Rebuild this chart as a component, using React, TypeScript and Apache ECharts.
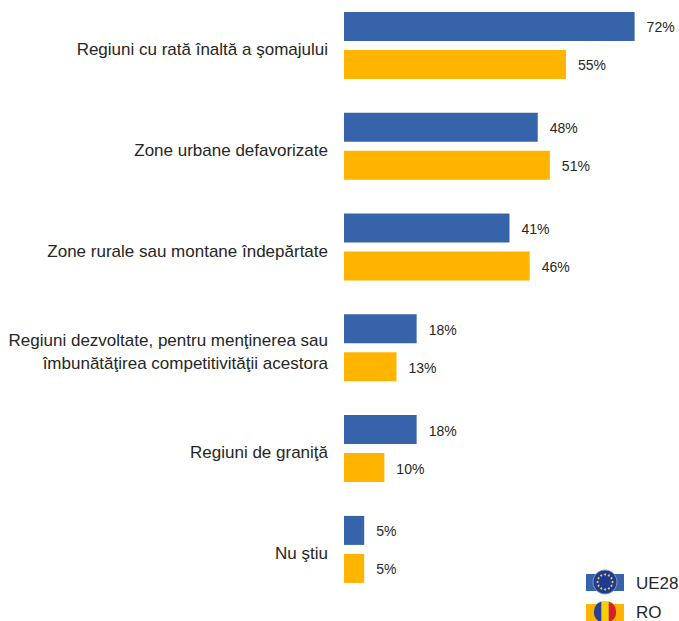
import React, { useEffect, useRef } from "react";
import * as echarts from "echarts";

const categories = [
  "Regiuni cu rată înaltă a şomajului",
  "Zone urbane defavorizate",
  "Zone rurale sau montane îndepărtate",
  "Regiuni dezvoltate, pentru menţinerea sau\nîmbunătăţirea competitivităţii acestora",
  "Regiuni de graniţă",
  "Nu ştiu",
];
const ue28 = [72, 48, 41, 18, 18, 5];
const ro = [55, 51, 46, 13, 10, 5];
const seriesNames = ["UE28", "RO"];
const BLUE = "#3763AA";
const ORANGE = "#FFB400";
const FONT = "'Liberation Sans', Arial, sans-serif";

echarts.graphic.registerShape("segLeft", echarts.graphic.extendPath("M-3.7 -10.4 A 11 11 0 0 0 -3.7 10.4 Z", {}));
echarts.graphic.registerShape("segRight", echarts.graphic.extendPath("M3.7 -10.4 A 11 11 0 0 1 3.7 10.4 Z", {}));

const stars = Array.from({ length: 12 }, (_, i) => ({
  type: "circle",
  shape: { cx: 605 + 7.5 * Math.cos((i * Math.PI) / 6), cy: 582 + 7.5 * Math.sin((i * Math.PI) / 6), r: 1 },
  style: { fill: "#F5D33C" },
  z: 12,
}));

export default function App() {
  const ref = useRef<HTMLDivElement>(null);
  useEffect(() => {
    const chart = echarts.init(ref.current!, null, { renderer: "svg" });
    const label = {
      show: true,
      position: "right",
      distance: 12,
      offset: [0, 1],
      formatter: "{c}%",
      fontFamily: FONT,
      fontSize: 14,
      color: "#262626",
    };
    chart.setOption({
      animation: false,
      grid: [
        { left: 344, top: -5, width: 335, height: 604.8, containLabel: false, outerBoundsMode: "none" },
        { left: 344, top: -1, width: 335, height: 604.8, containLabel: false, outerBoundsMode: "none" },
      ],
      xAxis: [
        { type: "value", gridIndex: 0, min: 0, max: 83, show: false },
        { type: "value", gridIndex: 1, min: 0, max: 83, show: false },
      ],
      yAxis: [
        {
          type: "category",
          gridIndex: 0,
          inverse: true,
          data: categories,
          axisLine: { show: false },
          axisTick: { show: false },
          axisLabel: { show: false },
        },
        {
          type: "category",
          gridIndex: 1,
          inverse: true,
          data: categories,
          axisLine: { show: false },
          axisTick: { show: false },
          axisLabel: {
            margin: 16,
            align: "right",
            fontFamily: FONT,
            fontSize: 17,
            lineHeight: 23,
            color: "#262626",
          },
        },
      ],
      series: [
        { name: seriesNames[0], type: "bar", xAxisIndex: 0, yAxisIndex: 0, data: ue28, barWidth: 29, barGap: "31%", itemStyle: { color: BLUE }, label },
        { name: seriesNames[1], type: "bar", xAxisIndex: 0, yAxisIndex: 0, data: ro, barWidth: 29, itemStyle: { color: ORANGE }, label },
      ],
      graphic: [
        { type: "rect", shape: { x: 586, y: 574, width: 38, height: 17 }, style: { fill: BLUE }, z: 10 },
        { type: "circle", shape: { cx: 605, cy: 582, r: 12 }, style: { fill: "#1F3A93", stroke: "#8A93B5", lineWidth: 1 }, z: 11 },
        ...stars,
        { type: "rect", shape: { x: 586, y: 604, width: 38, height: 17 }, style: { fill: ORANGE }, z: 10 },
        { type: "circle", shape: { cx: 605, cy: 612, r: 11 }, style: { fill: "#F5D000" }, z: 11 },
        { type: "segLeft", x: 605, y: 612, style: { fill: "#2A3F9A" }, z: 12 },
        { type: "segRight", x: 605, y: 612, style: { fill: "#D5202C" }, z: 12 },
        { type: "text", x: 636, y: 583, style: { text: seriesNames[0], font: `17px ${FONT}`, fill: "#262626", textVerticalAlign: "middle" }, z: 12 },
        { type: "text", x: 636, y: 612, style: { text: seriesNames[1], font: `17px ${FONT}`, fill: "#262626", textVerticalAlign: "middle" }, z: 12 },
      ],
    });
    return () => chart.dispose();
  }, []);
  return <div ref={ref} style={{ position: "absolute", left: 0, top: 0, width: 679, height: 621 }} />;
}
